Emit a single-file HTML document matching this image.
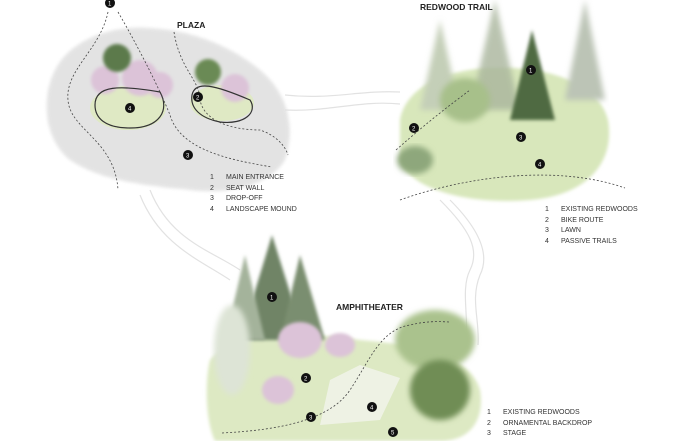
<!DOCTYPE html>
<html><head><style>
body{margin:0;background:#fff;}
svg{display:block;}
text{font-family:"Liberation Sans",sans-serif;}
</style></head><body>
<svg width="700" height="441" viewBox="0 0 700 441">
<defs>
<filter id="b"><feGaussianBlur stdDeviation="3"/></filter>
<filter id="b2"><feGaussianBlur stdDeviation="1.5"/></filter>
<pattern id="dots" width="3" height="3" patternUnits="userSpaceOnUse"><rect width="3" height="3" fill="#e6e6e6"/><circle cx="1" cy="1" r="0.7" fill="#c9c9c9"/></pattern>
</defs>
<g fill="none" stroke="#e2e2e2" stroke-width="1.2">
<path d="M285,95 C330,100 360,90 400,92"/>
<path d="M285,110 C330,112 360,100 400,104"/>
<path d="M440,200 C470,230 480,250 470,270 C460,290 470,320 465,340 C460,360 430,380 410,400"/>
<path d="M450,200 C480,230 490,255 480,275 C470,300 480,320 478,345"/>
<path d="M150,190 C170,240 210,250 240,270"/>
<path d="M140,195 C160,245 200,260 230,280"/>
</g>
<!-- PLAZA -->
<path d="M55,70 C70,40 110,25 150,28 C190,30 230,45 260,70 C290,95 295,130 285,160 C270,185 230,195 190,190 C140,185 100,180 70,160 C45,140 40,100 55,70Z" fill="url(#dots)" filter="url(#b2)" opacity="0.9"/>
<ellipse cx="128" cy="108" rx="38" ry="22" fill="#dfe9c4"/>
<ellipse cx="222" cy="103" rx="32" ry="18" fill="#dfe9c4"/>
<circle cx="105" cy="80" r="14" fill="#dcc3d8" filter="url(#b2)"/>
<circle cx="140" cy="78" r="18" fill="#dcc3d8" filter="url(#b2)"/>
<circle cx="160" cy="85" r="13" fill="#dcc3d8" filter="url(#b2)"/>
<circle cx="235" cy="88" r="14" fill="#dcc3d8" filter="url(#b2)"/>
<circle cx="117" cy="58" r="14" fill="#5c7a4c" filter="url(#b2)"/>
<circle cx="208" cy="72" r="13" fill="#6a8a55" filter="url(#b2)"/>
<g fill="none" stroke="#333" stroke-width="1.2">
<path d="M95,105 C95,85 120,85 160,92 C170,110 160,128 130,128 C105,128 95,118 95,105Z"/>
<path d="M192,95 C195,80 215,85 250,100 C258,112 245,125 220,122 C200,118 190,108 192,95Z"/>
</g>
<g fill="none" stroke="#444" stroke-width="0.8" stroke-dasharray="2,2">
<path d="M108,12 C100,50 65,70 68,100 C70,130 115,140 118,190"/>
<path d="M118,12 C140,50 160,90 170,115 C180,150 230,160 272,167"/>
<path d="M174,32 C180,70 200,80 200,100 C205,125 240,130 260,130 C275,135 285,145 288,155"/>
</g>
<circle cx="110" cy="3" r="5" fill="#111"/><text x="108" y="5.5" font-size="6" fill="#fff">1</text>
<circle cx="198" cy="97" r="5" fill="#111"/><text x="196" y="99.5" font-size="6" fill="#fff">2</text>
<circle cx="130" cy="108" r="5" fill="#111"/><text x="128" y="110.5" font-size="6" fill="#fff">4</text>
<circle cx="188" cy="155" r="5" fill="#111"/><text x="186" y="157.5" font-size="6" fill="#fff">3</text>
<text x="177" y="28" font-size="8.5" font-weight="bold" fill="#222">PLAZA</text>
<g font-size="7" fill="#333">
<text x="210" y="179">1</text><text x="226" y="179">MAIN ENTRANCE</text>
<text x="210" y="190">2</text><text x="226" y="190">SEAT WALL</text>
<text x="210" y="200">3</text><text x="226" y="200">DROP-OFF</text>
<text x="210" y="211">4</text><text x="226" y="211">LANDSCAPE MOUND</text>
</g>
<!-- REDWOOD TRAIL -->
<path d="M400,120 C405,90 440,70 490,68 C550,65 600,85 608,120 C615,160 590,195 530,200 C470,205 410,190 400,160Z" fill="#d8e7bb" filter="url(#b2)"/>
<path d="M440,20 L420,110 L460,110Z" fill="#c4cfb8" filter="url(#b)"/>
<path d="M495,0 L470,110 L520,110Z" fill="#a9b59c" filter="url(#b)" opacity="0.8"/>
<path d="M585,0 L565,100 L605,100Z" fill="#bcc4b6" filter="url(#b)"/>
<path d="M532,30 L510,120 L555,120Z" fill="#4f6a43" filter="url(#b2)"/>
<ellipse cx="465" cy="100" rx="25" ry="22" fill="#a7c08a" filter="url(#b)"/>
<ellipse cx="415" cy="160" rx="18" ry="14" fill="#8ea77c" filter="url(#b)"/>
<g fill="none" stroke="#444" stroke-width="0.8" stroke-dasharray="2,2">
<path d="M396,150 C430,120 450,105 470,90"/>
<path d="M400,200 C470,175 560,165 625,188"/>
</g>
<circle cx="531" cy="70" r="5" fill="#111"/><text x="529" y="72.5" font-size="6" fill="#fff">1</text>
<circle cx="414" cy="128" r="5" fill="#111"/><text x="412" y="130.5" font-size="6" fill="#fff">2</text>
<circle cx="521" cy="137" r="5" fill="#111"/><text x="519" y="139.5" font-size="6" fill="#fff">3</text>
<circle cx="540" cy="164" r="5" fill="#111"/><text x="538" y="166.5" font-size="6" fill="#fff">4</text>
<text x="420" y="10" font-size="8.5" font-weight="bold" fill="#222">REDWOOD TRAIL</text>
<g font-size="7" fill="#333">
<text x="545" y="211">1</text><text x="561" y="211">EXISTING REDWOODS</text>
<text x="545" y="222">2</text><text x="561" y="222">BIKE ROUTE</text>
<text x="545" y="232">3</text><text x="561" y="232">LAWN</text>
<text x="545" y="243">4</text><text x="561" y="243">PASSIVE TRAILS</text>
</g>
<!-- AMPHITHEATER -->
<path d="M210,360 C230,335 300,330 360,340 C420,345 470,355 480,390 C485,420 470,441 440,441 L215,441 C205,420 205,380 210,360Z" fill="#dde9c3" filter="url(#b2)"/>
<path d="M272,235 L240,340 L305,340Z" fill="#6f8466" filter="url(#b2)"/>
<path d="M245,255 L225,340 L265,340Z" fill="#a4b39b" filter="url(#b2)"/>
<path d="M300,255 L280,340 L325,340Z" fill="#7a8e70" filter="url(#b2)"/>
<ellipse cx="232" cy="350" rx="18" ry="45" fill="#dde4d6" filter="url(#b)"/>
<ellipse cx="300" cy="340" rx="22" ry="18" fill="#dcc3d8" filter="url(#b2)"/>
<ellipse cx="340" cy="345" rx="15" ry="12" fill="#dcc3d8" filter="url(#b2)"/>
<ellipse cx="278" cy="390" rx="16" ry="14" fill="#dcc3d8" filter="url(#b2)"/>
<ellipse cx="435" cy="340" rx="40" ry="30" fill="#aac28d" filter="url(#b)"/>
<ellipse cx="440" cy="390" rx="30" ry="30" fill="#6f8d55" filter="url(#b)"/>
<path d="M330,380 L360,365 L400,378 L380,420 L320,425Z" fill="#eef2e4"/>
<g fill="none" stroke="#444" stroke-width="0.8" stroke-dasharray="2,2">
<path d="M222,433 C280,430 330,420 350,390 C370,360 380,330 410,325 C430,320 445,322 450,322"/>
</g>
<circle cx="272" cy="297" r="5" fill="#111"/><text x="270" y="299.5" font-size="6" fill="#fff">1</text>
<circle cx="306" cy="378" r="5" fill="#111"/><text x="304" y="380.5" font-size="6" fill="#fff">2</text>
<circle cx="311" cy="417" r="5" fill="#111"/><text x="309" y="419.5" font-size="6" fill="#fff">3</text>
<circle cx="372" cy="407" r="5" fill="#111"/><text x="370" y="409.5" font-size="6" fill="#fff">4</text>
<circle cx="393" cy="432" r="5" fill="#111"/><text x="391" y="434.5" font-size="6" fill="#fff">5</text>
<text x="336" y="310" font-size="8.5" font-weight="bold" fill="#222">AMPHITHEATER</text>
<g font-size="7" fill="#333">
<text x="487" y="414">1</text><text x="503" y="414">EXISTING REDWOODS</text>
<text x="487" y="425">2</text><text x="503" y="425">ORNAMENTAL BACKDROP</text>
<text x="487" y="435">3</text><text x="503" y="435">STAGE</text>
</g>
</svg>
</body></html>
